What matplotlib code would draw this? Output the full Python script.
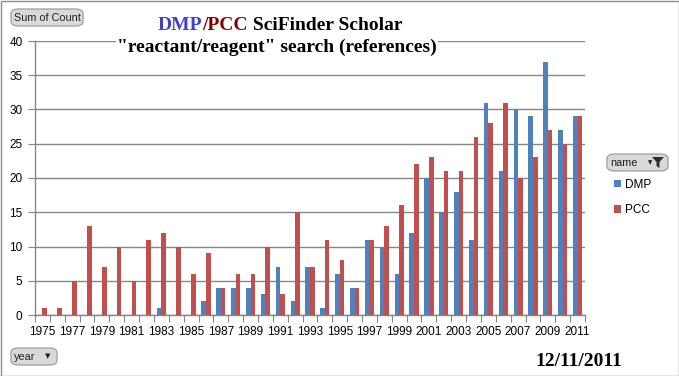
import matplotlib
matplotlib.use("Agg")
import matplotlib.pyplot as plt
from matplotlib.patches import FancyBboxPatch, Rectangle, Polygon
import numpy as np

years = list(range(1975, 2012))
dmp = [0, 0, 0, 0, 0, 0, 0, 0, 1, 0, 0, 2, 4, 4, 4, 3, 7, 2, 7, 1, 6, 4, 11, 10, 6,
       12, 20, 15, 18, 11, 31, 21, 30, 29, 37, 27, 29]
pcc = [1, 1, 5, 13, 7, 10, 5, 11, 12, 10, 6, 9, 4, 6, 6, 10, 3, 15, 7, 11, 8, 4, 11, 13, 16,
       22, 23, 21, 21, 26, 28, 31, 20, 23, 27, 25, 29]
series_names = ["DMP", "PCC"]
colors = ["#4F81BD", "#C0504D"]
yticks = [0, 5, 10, 15, 20, 25, 30, 35, 40]

W, H = 679, 376
fig = plt.figure(figsize=(W / 100, H / 100), dpi=100)
fig.patch.set_facecolor("white")
ax = fig.add_axes([35 / W, 1 - 315 / H, (585 - 35) / W, (315 - 41) / H])

x = np.arange(len(years))
bw = 0.31
b1 = ax.bar(x - bw / 2, dmp, width=bw, color=colors[0], label=series_names[0], zorder=3)
b2 = ax.bar(x + bw / 2, pcc, width=bw, color=colors[1], label=series_names[1], zorder=3)

ax.set_xlim(-0.5, len(years) - 0.5)
ax.set_ylim(0, 40)
ax.set_yticks(yticks)
ax.set_yticklabels([str(v) for v in yticks], fontsize=8.5, family="Liberation Sans")
ax.yaxis.grid(True, color="#868686", linewidth=1, zorder=0)
ax.tick_params(axis="y", length=5, color="#868686", pad=4)

ax.set_xticks(np.arange(len(years) + 1) - 0.5)
ax.set_xticklabels([])
ax.tick_params(axis="x", which="major", length=5, color="#868686")
ax.set_xticks(x[::2], minor=True)
ax.set_xticklabels([str(y) for y in years[::2]], minor=True, fontsize=8.5, family="Liberation Sans")
ax.tick_params(axis="x", which="minor", length=0, pad=8)

for s in ["top", "right"]:
    ax.spines[s].set_visible(False)
for s in ["left", "bottom"]:
    ax.spines[s].set_color("#868686")
    ax.spines[s].set_linewidth(1)

# title
tfont = dict(family="Liberation Serif", weight="bold", fontsize=14)
t1 = fig.text(158 / W, 1 - 30 / H, "DMP", color="#4040C8", ha="left", va="baseline", **tfont)
fig.canvas.draw()
r = fig.canvas.get_renderer()
bb = t1.get_window_extent(r)
t2 = fig.text(bb.x1 / W, 1 - 30 / H, "/PCC", color="#800000", ha="left", va="baseline", **tfont)
bb = t2.get_window_extent(r)
fig.text(bb.x1 / W, 1 - 30 / H, " SciFinder Scholar", color="black", ha="left", va="baseline", **tfont)
fig.text(277 / W, 1 - 52 / H, '"reactant/reagent" search (references)', color="black",
         ha="center", va="baseline",
         bbox=dict(facecolor="white", edgecolor="none", pad=1), **tfont)

fig.text(579 / W, 1 - 366 / H, "12/11/2011", color="black", ha="center", va="baseline",
         family="Liberation Serif", weight="bold", fontsize=14)

# buttons
def button(x0, y0, w, h, label):
    p = FancyBboxPatch((x0 / W, 1 - (y0 + h) / H), w / W, h / H,
                       boxstyle="round,pad=0,rounding_size=0.012",
                       transform=fig.transFigure, facecolor="#d9d9d9",
                       edgecolor="#a6a6a6", linewidth=1)
    fig.patches.append(p)
    fig.text((x0 + 3) / W, 1 - (y0 + h / 2 + 0.5) / H, label, fontsize=7.8,
             family="Liberation Sans", ha="left", va="center", color="#202020")

button(11, 9, 72, 17, "Sum of Count")
button(11, 348, 46, 17, "year")
fig.text(48 / W, 1 - 356.5 / H, "▼", fontsize=5, ha="center", va="center", color="#202020")
button(607, 154, 61, 17, "name")
fig.text(650 / W, 1 - 163 / H, "▼", fontsize=4, ha="center", va="center", color="#202020")
funnel = Polygon([(652 / W, 1 - 157 / H), (664 / W, 1 - 157 / H), (659.5 / W, 1 - 162 / H),
                  (659.5 / W, 1 - 168 / H), (656.5 / W, 1 - 166 / H), (656.5 / W, 1 - 162 / H)],
                 closed=True, transform=fig.transFigure, facecolor="#303030", edgecolor="none")
fig.patches.append(funnel)

leg = fig.legend(handles=[b1, b2], labels=series_names, loc="upper left",
                 bbox_to_anchor=(603 / W, 1 - 168 / H), frameon=False,
                 handlelength=0.6, handleheight=0.6, handletextpad=0.4,
                 labelspacing=1.15, prop=dict(family="Liberation Sans", size=8.5))

border = Rectangle((0.5 / W, 0.5 / H), (W - 1) / W, (H - 1) / H, transform=fig.transFigure,
                   facecolor="none", edgecolor="#8c8c8c", linewidth=1)
fig.patches.append(border)

fig.savefig("out.png", dpi=100)
